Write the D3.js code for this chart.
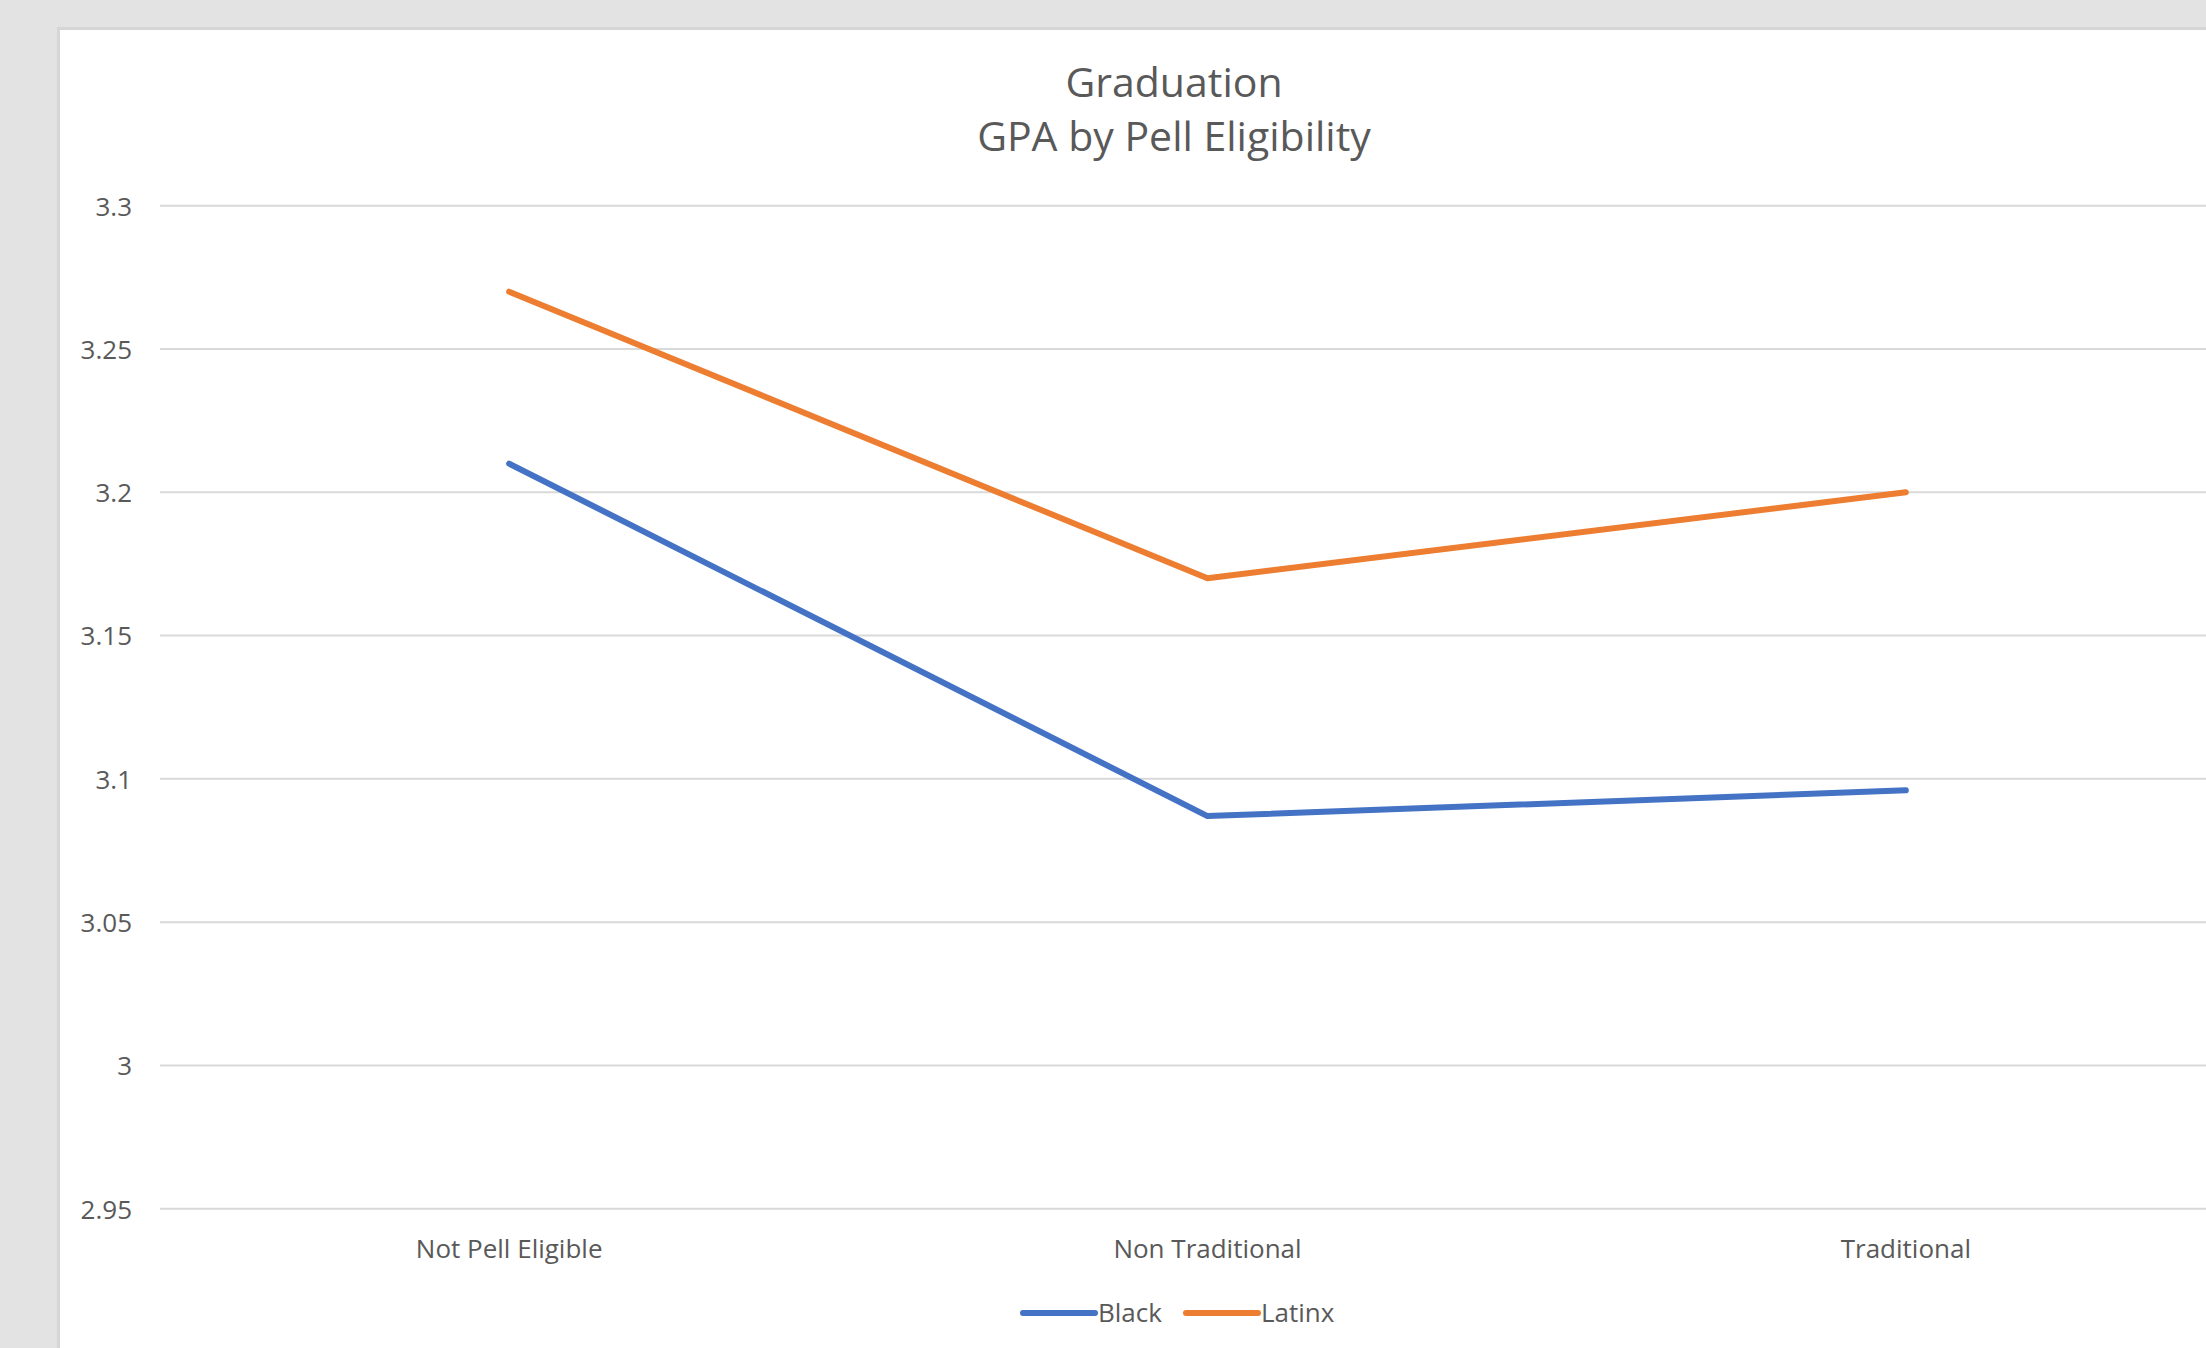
<!DOCTYPE html>
<html>
<head>
<meta charset="utf-8">
<script src="https://cdn.jsdelivr.net/npm/d3@7"></script>
<style>
  html, body { margin: 0; padding: 0; background: #e3e3e3; overflow: hidden; }
  svg { display: block; }
  text { font-family: "Open Sans", sans-serif; fill: #595959; }
</style>
</head>
<body>
<svg id="chart" width="2206" height="1348"></svg>
<script>
// Chart data
const categories = ["Not Pell Eligible", "Non Traditional", "Traditional"];
const seriesNames = ["Black", "Latinx"];
const blackValues = [3.21, 3.087, 3.096];
const latinxValues = [3.27, 3.17, 3.2];
const yTicks = [2.95, 3, 3.05, 3.1, 3.15, 3.2, 3.25, 3.3];
const titleLines = ["Graduation", "GPA by Pell Eligibility"];

const colors = { Black: "#4472C4", Latinx: "#ED7D31" };
const series = [
  { name: "Black", values: blackValues },
  { name: "Latinx", values: latinxValues }
];

const svg = d3.select("#chart");
const W = 2206, H = 1348;

// Chart panel
svg.append("rect").attr("x", 0).attr("y", 0).attr("width", W).attr("height", H).attr("fill", "#e3e3e3");
svg.append("rect").attr("x", 58.5).attr("y", 28.5).attr("width", W).attr("height", H)
  .attr("fill", "#ffffff").attr("stroke", "#d6d6d6").attr("stroke-width", 3);

// Plot area (extends past the right edge of the panel)
const plot = { left: 160, right: 2255, top: 205.7, bottom: 1208.7 };

const x = d3.scaleBand().domain(categories).range([plot.left, plot.right]).padding(0);
const y = d3.scaleLinear().domain([2.95, 3.3]).range([plot.bottom, plot.top]);

// Gridlines
svg.append("g")
  .selectAll("line")
  .data(yTicks)
  .join("line")
  .attr("x1", plot.left)
  .attr("x2", plot.right)
  .attr("y1", d => y(d))
  .attr("y2", d => y(d))
  .attr("stroke", "#d9d9d9")
  .attr("stroke-width", 2);

// Y axis labels
const yAxis = d3.axisLeft(y).tickValues(yTicks).tickSize(0).tickPadding(0)
  .tickFormat(d => String(+d.toFixed(2)));
const yg = svg.append("g").attr("transform", `translate(132,0)`).call(yAxis);
yg.select(".domain").remove();
yg.selectAll("text")
  .attr("font-family", "Open Sans, sans-serif")
  .attr("font-size", 26)
  .attr("fill", "#595959")
  .attr("dy", "0.36em");

// X axis labels
const xAxis = d3.axisBottom(x).tickSize(0).tickPadding(0);
const xg = svg.append("g").attr("transform", `translate(0,${plot.bottom})`).call(xAxis);
xg.select(".domain").remove();
xg.selectAll("text")
  .attr("font-family", "Open Sans, sans-serif")
  .attr("font-size", 26)
  .attr("fill", "#595959")
  .attr("dy", 0)
  .attr("y", 49);

// Lines
const line = d3.line()
  .x((d, i) => x(categories[i]) + x.bandwidth() / 2)
  .y(d => y(d));

svg.append("g")
  .selectAll("path")
  .data(series)
  .join("path")
  .attr("d", d => line(d.values))
  .attr("fill", "none")
  .attr("stroke", d => colors[d.name])
  .attr("stroke-width", 6)
  .attr("stroke-linecap", "round")
  .attr("stroke-linejoin", "round");

// Title
svg.append("g")
  .selectAll("text")
  .data(titleLines)
  .join("text")
  .attr("x", 1174)
  .attr("y", (d, i) => 97 + i * 54)
  .attr("text-anchor", "middle")
  .attr("font-size", 41)
  .text(d => d);

// Legend
const legendX = [1023, 1186];
const legend = svg.append("g")
  .selectAll("g")
  .data(seriesNames)
  .join("g")
  .attr("transform", (d, i) => `translate(${legendX[i]},1313)`);
legend.append("line")
  .attr("x1", 0).attr("x2", 72)
  .attr("y1", 0).attr("y2", 0)
  .attr("stroke", d => colors[d])
  .attr("stroke-width", 6)
  .attr("stroke-linecap", "round");
legend.append("text")
  .attr("x", 75)
  .attr("y", 9)
  .attr("font-size", 26)
  .text(d => d);
</script>
</body>
</html>
